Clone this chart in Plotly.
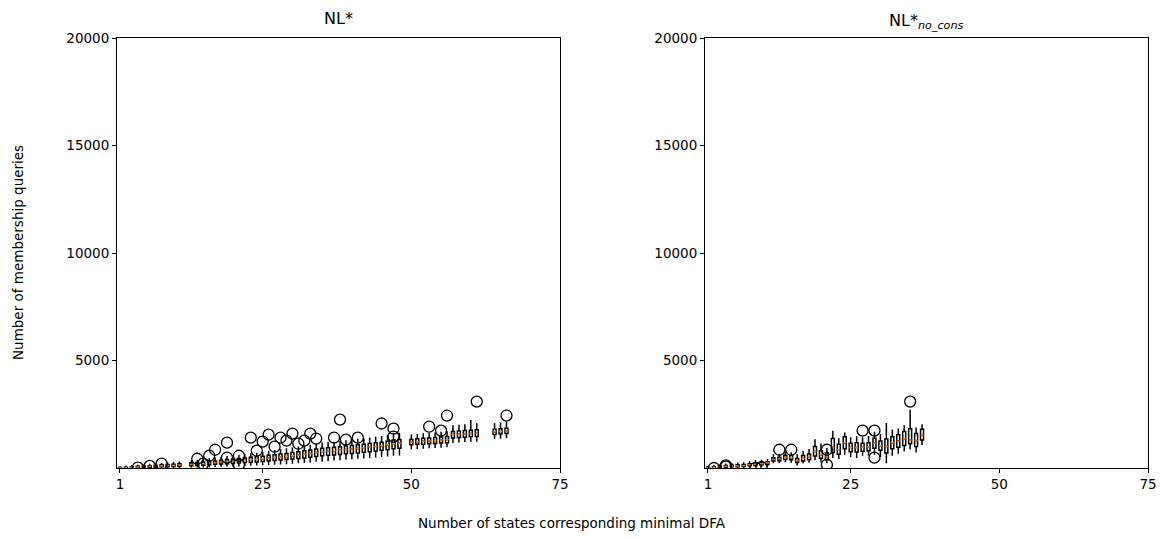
import plotly.graph_objects as go

W, H = 1165, 539

# ---------------- data: NL* (left) ----------------
left_pos = [1, 2, 3, 4, 5, 6, 7, 8, 9, 10, 11, 13, 14, 15, 16, 17, 18, 19, 20,
            21, 22, 23, 24, 25, 26, 27, 28, 29, 30, 31, 32, 33, 34, 35, 36, 37, 38,
            39, 40, 41, 42, 43, 44, 45, 46, 47, 48, 50, 51, 52, 53, 54, 55, 56, 57,
            58, 59, 60, 61, 64, 65, 66]
left_med = [10, 20, 35, 50, 60, 75, 90, 100, 110, 120, 140, 170, 190, 200, 230, 250,
            280, 300, 320, 340, 360, 390, 400, 430, 460, 490, 510, 540, 570, 600, 640,
            670, 720, 760, 780, 800, 830, 860, 880, 910, 940, 970, 1000, 1040, 1080,
            1130, 1150, 1200, 1220, 1240, 1260, 1280, 1300, 1320, 1560, 1570, 1580,
            1600, 1620, 1680, 1700, 1720]
left_q1 = [0, 5, 15, 25, 30, 40, 50, 55, 60, 70, 80, 100, 120, 130, 150, 170, 190,
           200, 210, 230, 250, 270, 280, 300, 320, 350, 370, 390, 420, 440, 470, 500,
           540, 570, 590, 610, 630, 660, 680, 700, 730, 760, 790, 820, 850, 900, 920,
           1080, 1100, 1110, 1130, 1140, 1160, 1180, 1400, 1420, 1430, 1450, 1460,
           1560, 1580, 1600]
left_q3 = [25, 40, 60, 80, 95, 110, 130, 150, 160, 170, 200, 240, 260, 280, 310, 330,
           360, 390, 410, 440, 460, 500, 520, 550, 590, 620, 650, 680, 720, 760, 800,
           840, 880, 920, 940, 960, 990, 1020, 1050, 1080, 1110, 1140, 1170, 1200, 1240,
           1300, 1320, 1330, 1360, 1380, 1400, 1420, 1440, 1460, 1700, 1720, 1740,
           1760, 1780, 1800, 1830, 1850]
left_lo = [0, 0, 0, 5, 10, 15, 20, 25, 25, 30, 35, 50, 60, 60, 70, 80, 90, 100, 100,
           110, 130, 140, 150, 160, 170, 190, 200, 210, 230, 250, 270, 290, 320, 340,
           360, 380, 400, 420, 440, 460, 480, 500, 520, 550, 570, 600, 620, 900, 920,
           930, 950, 960, 980, 1000, 1200, 1220, 1240, 1250, 1260, 1380, 1400, 1420]
left_hi = [50, 70, 100, 120, 140, 160, 180, 200, 220, 240, 270, 320, 350, 380, 420,
           450, 490, 520, 550, 580, 610, 650, 680, 720, 770, 800, 840, 880, 920, 960,
           1000, 1050, 1100, 1150, 1170, 1190, 1220, 1250, 1280, 1320, 1350, 1380,
           1420, 1450, 1500, 1600, 1610, 1520, 1550, 1580, 1600, 1620, 1650, 1680,
           1950, 1980, 2000, 2200, 2050, 2050, 2080, 2100]
left_out_x = [4, 6, 8, 14, 15, 16, 17, 19, 19, 21, 21, 23, 24, 25, 26, 27, 28, 29, 30,
              31, 32, 33, 34, 37, 38, 39, 41, 45, 47, 47, 53, 55, 56, 61, 66]
left_out_y = [20, 100, 200, 430, 200, 570, 850, 1180, 480, 570, 150, 1410, 810, 1230,
              1550, 990, 1410, 1270, 1600, 1130, 1270, 1600, 1370, 1410, 2250, 1320,
              1410, 2070, 1830, 1460, 1920, 1740, 2440, 3090, 2440]

# ---------------- data: NL*_no_cons (right) ----------------
right_pos = list(range(1, 38))
right_med = [10, 30, 60, 80, 100, 100, 110, 150, 180, 200, 230, 390, 420, 500, 480,
             340, 450, 520, 770, 620, 520, 960, 850, 1180, 950, 950, 960, 980, 1150,
             1040, 1000, 1180, 1250, 1360, 1300, 1270, 1540]
right_q1 = [0, 10, 30, 50, 60, 60, 70, 100, 120, 140, 160, 320, 340, 400, 380, 250,
            330, 380, 560, 450, 380, 720, 640, 900, 760, 740, 780, 800, 920, 820, 700,
            900, 960, 1050, 1130, 1000, 1300]
right_q3 = [30, 60, 90, 120, 140, 150, 160, 200, 230, 260, 290, 480, 500, 590, 580,
            440, 580, 650, 1000, 800, 700, 1370, 1100, 1450, 1150, 1180, 1150, 1180,
            1380, 1250, 1350, 1450, 1550, 1700, 1830, 1600, 1800]
right_lo = [0, 0, 0, 10, 20, 20, 30, 50, 60, 80, 90, 250, 260, 300, 280, 150, 250,
            280, 400, 300, 250, 500, 450, 650, 550, 500, 600, 600, 650, 550, 260, 600,
            700, 800, 900, 750, 1100]
right_hi = [60, 100, 140, 180, 200, 220, 230, 280, 320, 350, 380, 600, 620, 700, 700,
            600, 750, 850, 1300, 1100, 900, 1700, 1350, 1620, 1400, 1450, 1400, 1450,
            1650, 1550, 2060, 1750, 1800, 1950, 2670, 1850, 2000]
right_out_x = [2, 4, 4, 9, 10, 13, 15, 21, 21, 27, 29, 29, 35]
right_out_y = [0, 60, 120, 0, 40, 850, 850, 850, 150, 1740, 1740, 480, 3090]

x_tick_vals = [1, 25, 50, 75]
y_tick_vals = [5000, 10000, 15000, 20000]
y_tick_text = ["5000", "10000", "15000", "20000"]

# ---------------- figure ----------------
FONT = "DejaVu Sans"
fig = go.Figure()


def add_panel(pos, q1, med, q3, lo, hi, ox, oy, xa, ya):
    fig.add_trace(go.Box(
        x=pos, q1=q1, median=med, q3=q3, lowerfence=lo, upperfence=hi,
        width=0.5, whiskerwidth=0.5, boxpoints=False,
        line=dict(color="black", width=1.5), fillcolor="rgba(0,0,0,0)",
        xaxis=xa, yaxis=ya, showlegend=False, hoverinfo="skip"))
    mx, my = [], []
    for p, m in zip(pos, med):
        mx += [p - 0.25, p + 0.25, None]
        my += [m, m, None]
    fig.add_trace(go.Scatter(
        x=mx, y=my, mode="lines", line=dict(color="#ff7f0e", width=1.5),
        xaxis=xa, yaxis=ya, showlegend=False, hoverinfo="skip"))
    fig.add_trace(go.Scatter(
        x=ox, y=oy, mode="markers",
        marker=dict(symbol="circle-open", size=11, color="black",
                    line=dict(width=1.3, color="black")),
        xaxis=xa, yaxis=ya, showlegend=False, hoverinfo="skip"))


add_panel(left_pos, left_q1, left_med, left_q3, left_lo, left_hi,
          left_out_x, left_out_y, "x", "y")
add_panel(right_pos, right_q1, right_med, right_q3, right_lo, right_hi,
          right_out_x, right_out_y, "x2", "y2")

ydom = [1 - 468 / H, 1 - 38 / H]
axis_common = dict(showline=True, mirror=True, linecolor="black", linewidth=1,
                   ticks="outside", ticklen=4, tickcolor="black", showgrid=False,
                   zeroline=False, automargin=False,
                   tickfont=dict(family=FONT, size=13.5, color="black"))

fig.update_layout(
    width=W, height=H,
    margin=dict(l=0, r=0, t=0, b=0, autoexpand=False),
    paper_bgcolor="white", plot_bgcolor="white",
    font=dict(family=FONT, color="black"),
    xaxis=dict(domain=[117 / W, 560 / W], range=[0.5, 75], tickvals=x_tick_vals,
               anchor="y", **axis_common),
    yaxis=dict(domain=ydom, range=[0, 20000], tickvals=y_tick_vals,
               ticktext=y_tick_text, anchor="x", **axis_common),
    xaxis2=dict(domain=[705 / W, 1148 / W], range=[0.5, 75], tickvals=x_tick_vals,
                anchor="y2", **axis_common),
    yaxis2=dict(domain=ydom, range=[0, 20000], tickvals=y_tick_vals,
                ticktext=y_tick_text, anchor="x2", **axis_common),
    annotations=[
        dict(text="NL*", x=(117 + 560) / 2 / W, y=1 - 19 / H, xref="paper",
             yref="paper", showarrow=False, xanchor="center", yanchor="middle",
             font=dict(family=FONT, size=16)),
        dict(text="NL*<sub><i>no_cons</i></sub>", x=(705 + 1148) / 2 / W,
             y=1 - 21 / H, xref="paper", yref="paper", showarrow=False,
             xanchor="center", yanchor="middle",
             font=dict(family=FONT, size=16)),
        dict(text="Number of membership queries", x=18 / W, y=1 - 253 / H,
             xref="paper", yref="paper", showarrow=False, textangle=-90,
             xanchor="center", yanchor="middle",
             font=dict(family=FONT, size=13.5)),
        dict(text="Number of states corresponding minimal DFA", x=572 / W,
             y=1 - 523 / H, xref="paper", yref="paper", showarrow=False,
             xanchor="center", yanchor="middle",
             font=dict(family=FONT, size=13.5)),
    ],
)

fig.write_html("out.html")
